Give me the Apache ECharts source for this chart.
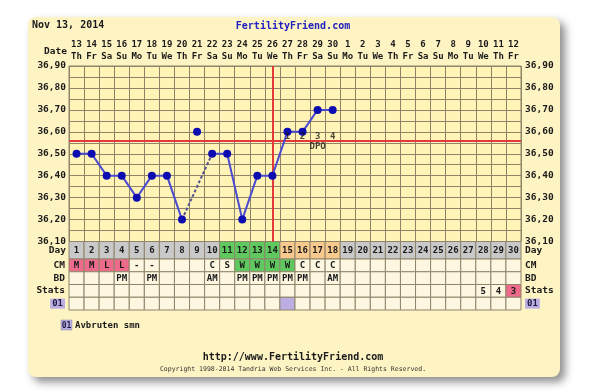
<!DOCTYPE html>
<html><head><meta charset="utf-8">
<script src="https://cdn.jsdelivr.net/npm/echarts@6/dist/echarts.min.js"></script>
<style>html,body{margin:0;padding:0;background:#fff}#c{width:600px;height:392px}</style>
</head><body><div id="c"></div>
<script>
// ---------- data ----------
const dates = ['13','14','15','16','17','18','19','20','21','22','23','24','25','26','27','28','29','30','1','2','3','4','5','6','7','8','9','10','11','12'];
const weekdays = ['Th','Fr','Sa','Su','Mo','Tu','We','Th','Fr','Sa','Su','Mo','Tu','We','Th','Fr','Sa','Su','Mo','Tu','We','Th','Fr','Sa','Su','Mo','Tu','We','Th','Fr'];
const cycleDays = ['1','2','3','4','5','6','7','8','9','10','11','12','13','14','15','16','17','18','19','20','21','22','23','24','25','26','27','28','29','30'];
const temps = [36.50,36.50,36.40,36.40,36.30,36.40,36.40,36.20,null,36.50,36.50,36.20,36.40,36.40,36.60,36.60,36.70,36.70,null,null,null,null,null,null,null,null,null,null,null,null];
const discardedTemps = [null,null,null,null,null,null,null,null,36.60,null,null,null,null,null,null,null,null,null,null,null,null,null,null,null,null,null,null,null,null,null];
const coverline = 36.56;
const ovulationDay = '14';
const dpoDays = ['15','16','17','18'];
const dpoLabels = ['1','2','3','4'];
const dpoTitleDay = '17';
const dayPhase = ['g','g','g','g','g','g','g','g','g','g','f','f','f','f','o','o','o','o','g','g','g','g','g','g','g','g','g','g','g','g'];
const cm = ['M','M','L','L','-','-','','','','C','S','W','W','W','W','C','C','C','','','','','','','','','','','',''];
const bd = ['','','','PM','','PM','','','','AM','','PM','PM','PM','PM','PM','','AM','','','','','','','','','','','',''];
const stats = ['','','','','','','','','','','','','','','','','','','','','','','','','','','','5','4','3'];
const statsFlag = ['','','','','','','','','','','','','','','','','','','','','','','','','','','','','','p'];
const custom01 = ['','','','','','','','','','','','','','','x','','','','','','','','','','','','','','',''];
const tableRows = ['CM','BD','Stats','01'];
const legendCode = '01';
const legendText = 'Avbruten smn';

// ---------- styles ----------
const FONT = '"DejaVu Sans Mono", monospace';
const GRIDC = '#8f846a';
const phaseColor = {g:'#c9c9c9', f:'#5fc95f', o:'#f8c98c'};
const cellBg = '#fdf6e0';
const pink = '#ee6b8b', purple = '#bcaee2', green = '#5fc95f';

function cmColor(v){ if(v==='M'||v==='L') return pink; if(v==='W') return green; return cellBg; }

const dashed = temps.map((v,i)=>{
  if (v==null) return null;
  if (temps[i+1]==null && i+2<temps.length && temps[i+2]!=null) return v;
  if (i>=2 && temps[i-1]==null && temps[i-2]!=null) return v;
  return null;
});

const tableData = [];
for (let i=0;i<30;i++){
  tableData.push([i,0,cm[i],cmColor(cm[i])]);
  tableData.push([i,1,bd[i],cellBg]);
  tableData.push([i,2,stats[i],statsFlag[i]==='p'?pink:cellBg]);
  tableData.push([i,3,'',custom01[i]?purple:cellBg]);
}
const dayData = cycleDays.map((d,i)=>[i,0,d,phaseColor[dayPhase[i]]]);

function cellRender(params, api){
  const c = api.coord([api.value(0), api.value(1)]);
  const s = api.size([1,1]);
  const txt = api.value(2);
  const fill = api.value(3);
  return {type:'group', children:[
    {type:'rect', shape:{x:c[0]-s[0]/2, y:c[1]-s[1]/2, width:s[0], height:s[1]},
     style:{fill:fill, stroke:GRIDC, lineWidth:1}},
    {type:'text', style:{text: txt===undefined?'':String(txt), x:c[0], y:c[1]+0.5, align:'center', verticalAlign:'middle',
      font:'bold 9px '+FONT, fill:'#1a1a1a'}}
  ]};
}

const tempLabel = v => (Math.round(v*100)%10===0) ? v.toFixed(2).replace('.',',') : '';
const lblStyle = {fontFamily:FONT, fontWeight:'bold', fontSize:9.5, color:'#1a1a1a'};
const richP = {p:{backgroundColor:purple, padding:[1,2,0,2], fontFamily:FONT, fontWeight:'bold', fontSize:9, color:'#1a1a40'}};

const chart = echarts.init(document.getElementById('c'), null, {renderer:'canvas'});
chart.setOption({
  animation:false,
  backgroundColor:'#ffffff',
  graphic:[
    {type:'rect', z:-10, shape:{x:28, y:17, width:532, height:360, r:8},
     style:{fill:'#fdf3c3', shadowBlur:8, shadowOffsetX:5, shadowOffsetY:5, shadowColor:'rgba(0,0,0,0.45)'}},
    {type:'text', left:32, top:20, style:{text:'Nov 13, 2014', font:'bold 10px '+FONT, fill:'#1a1a1a'}},
    {type:'text', x:293, y:26, style:{text:'FertilityFriend.com', align:'center', verticalAlign:'middle', font:'bold 10px '+FONT, fill:'#1f22c0'}},
    {type:'text', x:67, y:52, style:{text:'Date', align:'right', verticalAlign:'middle', font:'bold 9.5px '+FONT, fill:'#1a1a1a'}},
    {type:'rect', shape:{x:61, y:320, width:11, height:10}, style:{fill:purple, stroke:'#8f84a8', lineWidth:0.5}},
    {type:'text', x:66.5, y:325.5, style:{text:legendCode, align:'center', verticalAlign:'middle', font:'bold 8px '+FONT, fill:'#1a1a40'}},
    {type:'text', x:75, y:325.5, style:{text:legendText, align:'left', verticalAlign:'middle', font:'bold 9px '+FONT, fill:'#1a1a1a'}},
    {type:'text', x:293, y:357, style:{text:'http://www.FertilityFriend.com', align:'center', verticalAlign:'middle', font:'bold 10px '+FONT, fill:'#1a1a1a'}},
    {type:'text', x:293, y:369, style:{text:'Copyright 1998-2014 Tandria Web Services Inc. - All Rights Reserved.', align:'center', verticalAlign:'middle', font:'6.5px '+FONT, fill:'#333'}}
  ],
  grid:[
    {left:69, top:66, width:452, height:175.5, show:true, backgroundColor:'#fff4b6', borderColor:GRIDC, borderWidth:1},
    {left:69, top:241.5, width:452, height:17.5},
    {left:69, top:259, width:452, height:51}
  ],
  xAxis:[
    {gridIndex:0, type:'category', data:cycleDays, position:'top', boundaryGap:true,
     axisLine:{show:false}, axisTick:{show:false},
     splitLine:{show:true, interval:0, lineStyle:{color:GRIDC, width:1}},
     axisLabel:{interval:0, margin:3, lineHeight:12, formatter:(v,i)=>dates[i]+'\n'+weekdays[i], ...lblStyle, fontSize:9}},
    {gridIndex:1, type:'category', data:cycleDays, show:false},
    {gridIndex:2, type:'category', data:cycleDays, show:false}
  ],
  yAxis:[
    {gridIndex:0, type:'value', min:36.10, max:36.90, interval:0.05, position:'left',
     axisLine:{show:false}, axisTick:{show:false},
     splitLine:{show:true, lineStyle:{color:GRIDC, width:1}},
     axisLabel:{formatter:tempLabel, margin:3, ...lblStyle}},
    {gridIndex:0, type:'value', min:36.10, max:36.90, interval:0.05, position:'right',
     axisLine:{show:false}, axisTick:{show:false}, splitLine:{show:false},
     axisLabel:{formatter:tempLabel, margin:4, ...lblStyle}},
    {gridIndex:1, type:'category', data:['Day'], position:'left', axisLine:{show:false}, axisTick:{show:false},
     axisLabel:{interval:0, margin:3, ...lblStyle}},
    {gridIndex:1, type:'category', data:['Day'], position:'right', axisLine:{show:false}, axisTick:{show:false},
     axisLabel:{interval:0, margin:4, ...lblStyle}},
    {gridIndex:2, type:'category', data:tableRows, inverse:true, position:'left', axisLine:{show:false}, axisTick:{show:false},
     axisLabel:{interval:0, margin:4, ...lblStyle, formatter:v=> v===legendCode?'{p|'+v+'}':v, rich:richP}},
    {gridIndex:2, type:'category', data:tableRows, inverse:true, position:'right', axisLine:{show:false}, axisTick:{show:false},
     axisLabel:{interval:0, margin:4, ...lblStyle, formatter:v=> v===legendCode?'{p|'+v+'}':v, rich:richP}}
  ],
  series:[
    {type:'line', name:'dashed', xAxisIndex:0, yAxisIndex:0, data:dashed, connectNulls:true, symbol:'none', z:3,
     lineStyle:{color:'#55558f', width:2, type:[3,2]}},
    {type:'line', name:'temp', xAxisIndex:0, yAxisIndex:0, data:temps, connectNulls:false, z:5,
     symbol:'circle', symbolSize:8, showAllSymbol:true,
     itemStyle:{color:'#0c0cb0', opacity:1}, lineStyle:{color:'#4b4bd2', width:2},
     markLine:{silent:true, symbol:['none','none'], label:{show:false}, z:4,
       lineStyle:{color:'#e23a3a', width:2, type:'solid'},
       data:[{yAxis:coverline},{xAxis:ovulationDay}]}},
    {type:'scatter', name:'discarded', xAxisIndex:0, yAxisIndex:0, data:discardedTemps, z:5,
     symbol:'circle', symbolSize:8, itemStyle:{color:'#0c0cb0', opacity:1}},
    {type:'scatter', name:'dpo', xAxisIndex:0, yAxisIndex:0, z:6, symbolSize:0,
     data:dpoDays.map((d,i)=>({value:[d,coverline], label:{formatter:dpoLabels[i]}})),
     label:{show:true, position:'top', distance:-1, fontFamily:FONT, fontWeight:'bold', fontSize:9, color:'#1a1a1a'}},
    {type:'scatter', name:'dpoTitle', xAxisIndex:0, yAxisIndex:0, z:6, symbolSize:0,
     data:[[dpoTitleDay, coverline]],
     label:{show:true, position:'bottom', distance:2, formatter:'DPO', fontFamily:FONT, fontWeight:'bold', fontSize:9, color:'#1a1a1a'}},
    {type:'custom', name:'days', xAxisIndex:1, yAxisIndex:2, data:dayData, renderItem:cellRender, z:3},
    {type:'custom', name:'table', xAxisIndex:2, yAxisIndex:4, data:tableData, renderItem:cellRender, z:3}
  ]
});
</script></body></html>
